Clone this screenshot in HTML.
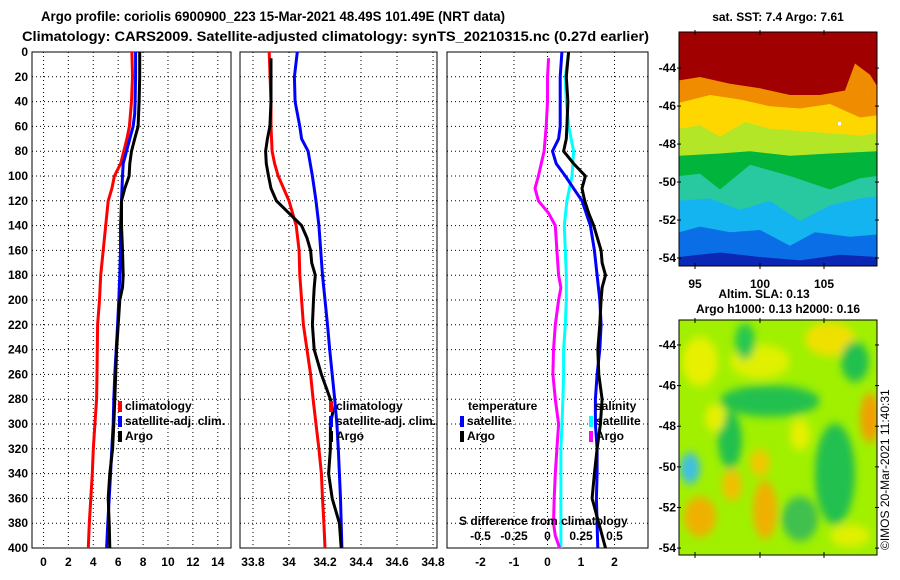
<!DOCTYPE html>
<html><head><meta charset="utf-8"><style>
body{margin:0;background:#fff;width:900px;height:580px;overflow:hidden}
svg{display:block;font-family:"Liberation Sans",sans-serif;font-weight:bold}
</style></head><body>
<svg id="fig" width="900" height="580" viewBox="0 0 900 580">
<defs>
<filter id="blur4" x="-20%" y="-20%" width="140%" height="140%"><feGaussianBlur stdDeviation="4"/></filter>
<clipPath id="clipTop"><rect x="679" y="32" width="198" height="208"/></clipPath>
<clipPath id="clipBot"><rect x="679" y="293" width="198" height="209"/></clipPath>
</defs>
<text x="41" y="21" font-size="14" textLength="464" lengthAdjust="spacingAndGlyphs">Argo profile: coriolis 6900900_223 15-Mar-2021 48.49S 101.49E (NRT data)</text>
<text x="22" y="41" font-size="14" textLength="627" lengthAdjust="spacingAndGlyphs">Climatology: CARS2009. Satellite-adjusted climatology: synTS_20210315.nc (0.27d earlier)</text>

<g id="p1"></g>
<g id="p2"></g>
<g id="p3"></g>

<text x="778" y="21" font-size="12" text-anchor="middle">sat. SST: 7.4 Argo: 7.61</text>
<g transform="translate(0,32) scale(1,1.125) translate(0,-32)">
<g clip-path="url(#clipTop)">
<rect x="679" y="32" width="198" height="208" fill="#1e8cf0"/>
<path d="M679,32H877V240H679Z" fill="#a00000"/>
<path d="M679,75 L700,72 L730,78 L760,82 L790,88 L820,88 L845,84 L855,60 L870,70 L877,80 V240 H679Z" fill="#f08c00"/>
<path d="M679,95 L710,88 L740,92 L770,98 L800,100 L830,96 L860,108 L877,106 V240 H679Z" fill="#ffd700"/>
<path d="M679,118 L700,115 L720,125 L745,112 L770,118 L800,120 L830,122 L860,124 L877,122 V240 H679Z" fill="#b4e628"/>
<path d="M679,142 L720,140 L750,138 L790,142 L830,140 L877,138 V240 H679Z" fill="#00b43c"/>
<path d="M679,160 L700,158 L720,172 L750,150 L790,160 L830,172 L860,162 L877,160 V240 H679Z" fill="#28c8a0"/>
<path d="M679,182 L710,180 L740,190 L770,182 L800,200 L830,186 L860,180 L877,178 V240 H679Z" fill="#14b4f0"/>
<path d="M679,210 L700,205 L730,210 L760,208 L790,222 L815,210 L850,214 L877,212 V240 H679Z" fill="#0a6ee6"/>
<path d="M679,232 L720,228 L760,232 L800,235 L840,230 L877,232 V240 H679Z" fill="#0a28b4"/>
<rect x="838" y="112" width="3" height="3" fill="#fff"/>
</g>
</g>
<rect x="679" y="32" width="198" height="234" fill="none" stroke="#000"/>
<g id="mapTopAxes"></g>
<text x="695" y="288" font-size="12" text-anchor="middle">95</text>
<text x="760" y="288" font-size="12" text-anchor="middle">100</text>
<text x="824" y="288" font-size="12" text-anchor="middle">105</text>
<text x="764" y="298" font-size="12" text-anchor="middle">Altim. SLA: 0.13</text>
<text x="778" y="313" font-size="12" text-anchor="middle">Argo h1000: 0.13 h2000: 0.16</text>

<g transform="translate(0,320) scale(1,1.124) translate(0,-293)">
<g clip-path="url(#clipBot)">
<rect x="679" y="293" width="198" height="209" fill="#a0f000"/>
<g filter="url(#blur4)">
<ellipse cx="700" cy="330" rx="18" ry="22" fill="#e6f000"/>
<ellipse cx="830" cy="310" rx="25" ry="15" fill="#f0e000"/>
<ellipse cx="760" cy="330" rx="30" ry="15" fill="#e0f000"/>
<ellipse cx="745" cy="312" rx="10" ry="16" fill="#28c850"/>
<ellipse cx="770" cy="365" rx="50" ry="14" fill="#20c050"/>
<ellipse cx="730" cy="400" rx="12" ry="25" fill="#20c050"/>
<ellipse cx="855" cy="330" rx="14" ry="18" fill="#20c050"/>
<ellipse cx="870" cy="380" rx="10" ry="22" fill="#f0a000"/>
<ellipse cx="690" cy="425" rx="10" ry="14" fill="#40c0e0"/>
<ellipse cx="700" cy="468" rx="16" ry="18" fill="#f0b000"/>
<ellipse cx="765" cy="462" rx="12" ry="26" fill="#f0b000"/>
<ellipse cx="732" cy="440" rx="10" ry="14" fill="#f0c000"/>
<ellipse cx="760" cy="420" rx="10" ry="12" fill="#f0c800"/>
<ellipse cx="835" cy="430" rx="20" ry="45" fill="#20c050"/>
<ellipse cx="800" cy="470" rx="18" ry="20" fill="#40c050"/>
<ellipse cx="715" cy="380" rx="10" ry="12" fill="#e6f000"/>
<ellipse cx="800" cy="395" rx="10" ry="14" fill="#e6f000"/>
<ellipse cx="850" cy="485" rx="20" ry="10" fill="#e0f000"/>
</g>
</g>
</g>
<rect x="679" y="320" width="198" height="235" fill="none" stroke="#000"/>
<g id="mapBotAxes"></g>
<text x="0" y="0" font-size="12" font-weight="normal" transform="translate(889,550) rotate(-90)">©IMOS 20-Mar-2021 11:40:31</text>
</svg>
<script>
const depthTicks = [0,20,40,60,80,100,120,140,160,180,200,220,240,260,280,300,320,340,360,380,400];
const tempTicks = [0,2,4,6,8,10,12,14];
const salTicks = [33.8,34,34.2,34.4,34.6,34.8];
const diffTicks = [-2,-1,0,1,2];
const salDiffTicks = [-0.5,-0.25,0,0.25,0.5];
const salDiffLabels = ['-0.5','-0.25','0','0.25','0.5'];
const latTicks = [-44,-46,-48,-50,-52,-54];

const climTDepth = [0,20,40,60,70,80,90,100,110,120,140,160,180,200,220,260,280,300,320,340,360,380,400];
const climT = [7.1,7.15,7.07,6.9,6.7,6.45,6.2,5.7,5.5,5.2,5.0,4.8,4.6,4.5,4.35,4.3,4.27,4.13,4.0,3.92,3.8,3.68,3.6];
const satTDepth = [0,20,40,50,60,70,80,90,100,120,140,160,180,200,220,240,260,280,300,320,340,360,380,400];
const satT = [7.4,7.4,7.36,7.33,7.2,6.93,6.67,6.4,6.35,6.27,6.19,6.19,6.13,6.05,5.95,5.84,5.73,5.65,5.6,5.49,5.39,5.28,5.17,5.07];
const argoTDepth = [0,20,40,60,70,80,90,100,110,120,140,160,180,190,200,220,240,260,280,300,320,340,360,380,400];
const argoT = [7.73,7.73,7.68,7.6,7.33,7.07,6.93,6.88,6.53,6.27,6.27,6.35,6.4,6.35,6.13,6.0,5.87,5.8,5.73,5.65,5.55,5.33,5.2,5.28,5.33];

const climSDepth = [0,40,60,80,90,100,110,120,130,140,160,180,200,220,240,260,280,300,320,340,360,380,400];
const climS = [33.89,33.9,33.9,33.906,33.92,33.94,33.97,34.0,34.02,34.04,34.056,34.06,34.07,34.08,34.1,34.12,34.134,34.15,34.166,34.18,34.186,34.194,34.2];
const satSDepth = [0,20,40,60,70,80,100,120,140,160,180,200,220,240,260,280,300,320,340,360,380,400];
const satS = [34.046,34.03,34.034,34.06,34.07,34.106,34.13,34.15,34.166,34.176,34.186,34.2,34.214,34.226,34.24,34.254,34.266,34.274,34.28,34.286,34.29,34.294];
const argoSDepth = [5,40,60,70,80,90,100,110,120,130,140,150,160,170,180,190,200,220,240,260,280,290,300,320,340,360,380,400];
const argoS = [33.9,33.9,33.894,33.88,33.87,33.874,33.886,33.9,33.93,34.0,34.07,34.1,34.12,34.126,34.146,34.14,34.136,34.13,34.14,34.18,34.23,34.244,34.23,34.23,34.22,34.24,34.28,34.29];

const satTDiffDepth = [0,20,60,70,80,90,100,110,120,140,160,180,200,220,240,260,280,300,320,340,360,380,400];
const satTDiff = [0.43,0.38,0.38,0.33,0.15,0.26,0.53,0.78,1.03,1.28,1.4,1.48,1.56,1.6,1.56,1.48,1.43,1.43,1.48,1.48,1.46,1.48,1.5];
const argoTDiffDepth = [0,20,40,60,70,80,90,100,110,120,130,140,160,170,180,190,200,220,240,260,280,300,320,340,360,380,400];
const argoTDiff = [0.63,0.56,0.61,0.58,0.56,0.48,0.78,1.13,1.03,1.11,1.23,1.38,1.6,1.63,1.73,1.63,1.6,1.56,1.5,1.53,1.63,1.58,1.48,1.4,1.33,1.53,1.73];
const satSDiffDepth = [0,20,40,60,80,100,120,140,160,180,200,220,240,260,280,300,320,340,360,380,400];
const satSDiff = [0.158,0.133,0.14,0.158,0.195,0.183,0.145,0.125,0.133,0.14,0.14,0.133,0.12,0.12,0.115,0.108,0.1,0.1,0.1,0.1,0.1];
const argoSDiffDepth = [5,20,40,60,80,100,110,120,130,140,160,180,190,200,220,240,260,280,300,320,340,360,380,390,400];
const argoSDiff = [0.008,0,0,-0.01,-0.025,-0.068,-0.093,-0.068,0.008,0.058,0.07,0.083,0.1,0.083,0.058,0.045,0.04,0.058,0.083,0.07,0.058,0.05,0.045,0.058,0.09];

const NS='http://www.w3.org/2000/svg';
const fig=document.getElementById('fig');
function mk(tag,attrs,parent){const e=document.createElementNS(NS,tag);for(const k in attrs)e.setAttribute(k,attrs[k]);(parent||fig).appendChild(e);return e;}
const Y0=52,Y1=548;
const yScale=d=>Y0+(d/400)*(Y1-Y0);
function xScaleFn(x0,x1,v0,v1){return v=>x0+(v-v0)/(v1-v0)*(x1-x0);}

function frame(g,x0,x1,xs,ticks,labels,leftLabels){
  for(const d of depthTicks){
    const y=yScale(d);
    const l=mk('line',{x1:x0,x2:x1,y1:y,y2:y,stroke:'#000','stroke-width':1,'stroke-dasharray':'1,3'},g);
    
    
    if(leftLabels){
      const t=mk('text',{x:28,y:y+4,'font-size':12,'text-anchor':'end'},g);
      t.textContent=d;
      
      
    }
  }
  ticks.forEach((v,i)=>{
    const x=xs(v);
    const l=mk('line',{x1:x,x2:x,y1:Y0,y2:Y1,stroke:'#000','stroke-width':1,'stroke-dasharray':'1,3'},g);
    
    
    const t=mk('text',{x:x,y:566,'font-size':12,'text-anchor':'middle'},g);
    t.textContent=labels[i];
    
    
  });
  const r=mk('rect',{x:x0,y:Y0,width:x1-x0,height:Y1-Y0,fill:'none',stroke:'#000','stroke-width':1},g);
  
  
}
function line(g,xs,vals,depths,color,name,mult){
  const m=mult||1;
  const pts=vals.map((v,i)=>xs(v*m).toFixed(1)+','+yScale(depths[i]).toFixed(1)).join(' ');
  const p=mk('polyline',{points:pts,fill:'none',stroke:color,'stroke-width':3,'stroke-linejoin':'round'},g);
  
  
}
function legend(g,x,y,color,label,name){
  const r=mk('rect',{x:x,y:y-9,width:4,height:11,fill:color},g);
  
  
  const t=mk('text',{x:x+7,y:y,'font-size':12},g);
  t.textContent=label;
  
  
}

const g1=document.getElementById('p1');
const xs1=xScaleFn(32,231,-0.92,15.06);
frame(g1,32,231,xs1,tempTicks,tempTicks.map(String),true);
line(g1,xs1,climT,climTDepth,'#ff0000','climatology-temperature-line');
line(g1,xs1,satT,satTDepth,'#0000ff','satellite-temperature-line');
line(g1,xs1,argoT,argoTDepth,'#000000','argo-temperature-line');
legend(g1,118,410,'#ff0000','climatology','legend-climatology');
legend(g1,118,425,'#0000ff','satellite-adj. clim.','legend-satellite-adj');
legend(g1,118,440,'#000000','Argo','legend-argo');

const g2=document.getElementById('p2');
const xs2=xScaleFn(240,437,33.728,34.822);
frame(g2,240,437,xs2,salTicks,salTicks.map(String),false);
line(g2,xs2,climS,climSDepth,'#ff0000','climatology-salinity-line');
line(g2,xs2,satS,satSDepth,'#0000ff','satellite-salinity-line');
line(g2,xs2,argoS,argoSDepth,'#000000','argo-salinity-line');
legend(g2,329,410,'#ff0000','climatology','legend-climatology-sal');
legend(g2,329,425,'#0000ff','satellite-adj. clim.','legend-satellite-adj-sal');
legend(g2,329,440,'#000000','Argo','legend-argo-sal');

const g3=document.getElementById('p3');
const xs3=xScaleFn(447,648,-3,3);
frame(g3,447,648,xs3,diffTicks,diffTicks.map(String),false);
line(g3,xs3,satSDiff,satSDiffDepth,'#00ffff','satellite-salinity-diff-line',4);
line(g3,xs3,argoSDiff,argoSDiffDepth,'#ff00ff','argo-salinity-diff-line',4);
line(g3,xs3,satTDiff,satTDiffDepth,'#0000ff','satellite-temperature-diff-line');
line(g3,xs3,argoTDiff,argoTDiffDepth,'#000000','argo-temperature-diff-line');
{const t=mk('text',{x:468,y:410,'font-size':12},g3);t.textContent='temperature';

}
legend(g3,460,425,'#0000ff','satellite','legend-temp-satellite');
legend(g3,460,440,'#000000','Argo','legend-temp-argo');
{const t=mk('text',{x:595,y:410,'font-size':12},g3);t.textContent='salinity';

}
legend(g3,589,425,'#00ffff','satellite','legend-sal-satellite');
legend(g3,589,440,'#ff00ff','Argo','legend-sal-argo');
{const t=mk('text',{x:459,y:525,'font-size':12},g3);t.textContent='S difference from climatology';

}
salDiffTicks.forEach((v,i)=>{
  const t=mk('text',{x:xs3(v*4),y:540,'font-size':12,'text-anchor':'middle'},g3);
  t.textContent=salDiffLabels[i];
  
  
});

function mapAxes(gid,y0,y1,latTop,latBot){
  const g=document.getElementById(gid);
  const ys=lat=>y0+(lat-latTop)/(latBot-latTop)*(y1-y0);
  latTicks.forEach(lat=>{
    const y=ys(lat);
    mk('line',{x1:677,x2:681,y1:y,y2:y,stroke:'#000'},g);
    mk('line',{x1:875,x2:879,y1:y,y2:y,stroke:'#000'},g);
    const t=mk('text',{x:676,y:y+4,'font-size':12,'text-anchor':'end'},g);
    t.textContent=lat;
    
    
  });
  [695,760,824].forEach(x=>{
    mk('line',{x1:x,x2:x,y1:y0-2,y2:y0+3,stroke:'#000'},g);
    mk('line',{x1:x,x2:x,y1:y1-3,y2:y1+3,stroke:'#000'},g);
  });
}
mapAxes('mapTopAxes',32,266,-42.1,-54.42);
mapAxes('mapBotAxes',320,555,-42.77,-54.34);
</script>
</body></html>
